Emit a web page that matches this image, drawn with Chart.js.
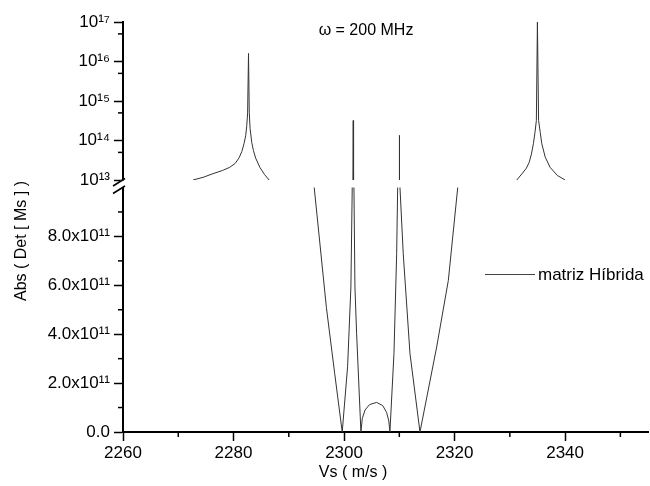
<!DOCTYPE html>
<html>
<head>
<meta charset="utf-8">
<script src="https://cdn.jsdelivr.net/npm/chart.js@4/dist/chart.umd.min.js"></script>
<style>
  html, body { margin: 0; padding: 0; background: #fff; }
</style>
</head>
<body>
<canvas id="grafico" width="650" height="486"></canvas>
<script>
// Vs (m/s) e Abs(Det[Ms])
const vs = [
  2272.67, 2274.5, 2276.3, 2278.0, 2279.3, 2280.3, 2281.0, 2281.5, 2281.9, 2282.2, 2282.4, 2282.55,
  2282.71, 2282.85, 2283.0, 2283.3, 2283.6, 2284.0, 2284.76, 2285.6, 2286.44,
  2294.6, 2296.8, 2298.3, 2299.67, 2300.64, 2301.24, 2301.48, 2301.6, 2301.66, 2301.72, 2301.79,
  2301.97, 2302.27, 2303.05,
  2303.3, 2303.8, 2304.6, 2305.9, 2307.0, 2307.7, 2308.1, 2308.3,
  2309.03, 2309.52, 2309.7, 2309.95, 2310.0, 2310.05, 2310.12, 2310.71, 2311.93, 2313.74,
  2316.76, 2318.87, 2320.57,
  2331.25, 2332.3, 2333.0, 2333.5, 2333.9, 2334.26, 2334.55, 2334.8, 2334.99, 2335.2, 2335.5,
  2335.78, 2336.4, 2337.28, 2338.6, 2340.0
];
const absDet = [
  1.0e13, 1.17e13, 1.45e13, 1.74e13, 2.09e13, 2.63e13, 3.63e13, 5.25e13, 8.3e13, 1.32e14, 2.4e14, 5.0e14,
  1.6e16, 5.0e14, 2.0e14, 8.9e13, 5.6e13, 3.6e13, 2.1e13, 1.38e13, 1.0e13,
  1.0e12, 5.1e11, 2.4e11, 0, 2.67e11, 5.93e11, 1.0e12, 1.0e13, 3.2e14, 1.0e13, 1.0e12,
  5.93e11, 4.04e11, 0,
  5.5e10, 9.0e10, 1.12e11, 1.21e11, 1.08e11, 8.0e10, 4.5e10, 0,
  3.21e11, 7.29e11, 1.0e12, 1.0e13, 1.35e14, 1.0e13, 1.0e12, 7.29e11, 3.21e11, 0,
  3.48e11, 6.2e11, 1.0e12,
  1.0e13, 1.5e13, 2.0e13, 2.8e13, 4.5e13, 8.3e13, 1.6e14, 3.2e14, 1.0e17, 3.2e14, 1.6e14,
  8.3e13, 3.8e13, 2.1e13, 1.3e13, 1.0e13
];

const nomeSerie = 'matriz Híbrida';
const tituloX = 'Vs ( m/s )';
const tituloY = 'Abs ( Det [ Ms ] )';
const textoFreq = 'ω = 200 MHz';

const xTicks = [2260, 2280, 2300, 2320, 2340];
const xMinor = [2270, 2290, 2310, 2330, 2350];
const logTicks = [1e13, 1e14, 1e15, 1e16, 1e17];
const logMinor = [5e13, 5e14, 5e15, 5e16];
const linTicks = [0, 2e11, 4e11, 6e11, 8e11];
const linMinor = [1e11, 3e11, 5e11, 7e11, 9e11];

const sup = { '0': '⁰', '1': '¹', '2': '²', '3': '³', '4': '⁴', '5': '⁵', '6': '⁶', '7': '⁷', '8': '⁸', '9': '⁹' };
const expoente = n => String(n).split('').map(c => sup[c]).join('');

// parte superior (log) só acima de 1e13, parte inferior (linear) só até 1e12
const pontosTopo = vs.map((v, i) => ({ x: v, y: absDet[i] >= 1e13 ? absDet[i] : null }));
const pontosBase = vs.map((v, i) => ({ x: v, y: absDet[i] <= 1e12 ? absDet[i] : null }));

Chart.defaults.font.family = "'Liberation Sans', Arial, sans-serif";
Chart.defaults.color = '#000';

const fonteTick = { size: 17 };

// marcas menores, quebra do eixo e textos soltos
const extras = {
  id: 'extras',
  afterDraw(chart) {
    const { ctx, scales } = chart;
    const x0 = scales.x.left;
    ctx.save();
    ctx.strokeStyle = '#000';
    ctx.lineWidth = 1.5;
    const linha = (a, b, c, d) => { ctx.beginPath(); ctx.moveTo(a, b); ctx.lineTo(c, d); ctx.stroke(); };

    logMinor.forEach(v => { const y = scales.yLog.getPixelForValue(v); linha(x0 - 5, y, x0, y); });
    linMinor.forEach(v => { const y = scales.yLin.getPixelForValue(v); linha(x0 - 5, y, x0, y); });
    xMinor.forEach(v => { const x = scales.x.getPixelForValue(v); linha(x, scales.x.top, x, scales.x.top + 5); });

    // quebra do eixo y
    const yA = scales.yLog.bottom;
    const yB = scales.yLin.getPixelForValue(1e12);
    ctx.fillStyle = '#fff';
    ctx.fillRect(x0 - 3, yA + 0.5, 6, yB - yA - 1);
    ctx.lineWidth = 1.5;
    linha(x0 - 10, yA + 6, x0 + 2, yA - 1.5);
    linha(x0 - 10, yA + 13.5, x0 + 2, yA + 6);

    ctx.fillStyle = '#000';
    ctx.textBaseline = 'middle';
    ctx.textAlign = 'center';
    ctx.font = "16px 'Liberation Sans', Arial, sans-serif";
    ctx.fillText(textoFreq, 366, 31);

    // legenda
    ctx.strokeStyle = '#444';
    ctx.lineWidth = 1;
    linha(485, 274.5, 535, 274.5);
    ctx.textAlign = 'left';
    ctx.font = "17px 'Liberation Sans', Arial, sans-serif";
    ctx.fillText(nomeSerie, 538, 275);

    // títulos dos eixos
    ctx.textAlign = 'center';
    ctx.font = "16px 'Liberation Sans', Arial, sans-serif";
    ctx.fillText(tituloX, 353, 473);
    ctx.translate(22, 241);
    ctx.rotate(-Math.PI / 2);
    ctx.fillText(tituloY, 0, 0);
    ctx.restore();
  }
};

const estiloEixo = {
  grid: { display: true, drawOnChartArea: false, drawTicks: true, tickLength: 9, tickColor: '#000', tickWidth: 1.5 },
  border: { display: true, color: '#000', width: 2 }
};

new Chart(document.getElementById('grafico'), {
  type: 'line',
  data: {
    datasets: [
      { label: nomeSerie, data: pontosTopo, yAxisID: 'yLog', borderColor: '#333', borderWidth: 1, pointRadius: 0, tension: 0 },
      { label: nomeSerie, data: pontosBase, yAxisID: 'yLin', borderColor: '#333', borderWidth: 1, pointRadius: 0, tension: 0 }
    ]
  },
  options: {
    responsive: false,
    animation: false,
    devicePixelRatio: 1,
    layout: { padding: { top: 22, right: 2, left: 0, bottom: 0 } },
    plugins: { legend: { display: false }, tooltip: { enabled: false } },
    scales: {
      x: {
        type: 'linear', position: 'bottom', min: 2260, max: 2355,
        afterBuildTicks: s => { s.ticks = xTicks.map(v => ({ value: v })); },
        afterFit: s => { s.height = 54; },
        ticks: { font: fonteTick, padding: 2, maxRotation: 0, autoSkip: false, callback: v => String(v) },
        ...estiloEixo
      },
      yLog: {
        type: 'logarithmic', position: 'left', stack: 'y', stackWeight: 158, weight: 1,
        min: 1e13, max: 1e17,
        afterBuildTicks: s => { s.ticks = logTicks.map(v => ({ value: v })); },
        afterFit: s => { s.width = 123; },
        ticks: { font: fonteTick, padding: 4, autoSkip: false, callback: v => '10' + expoente(Math.round(Math.log10(v))) },
        ...estiloEixo
      },
      yLin: {
        type: 'linear', position: 'left', stack: 'y', stackWeight: 252, weight: 0,
        min: 0, max: 1.0307e12,
        afterBuildTicks: s => { s.ticks = linTicks.map(v => ({ value: v })); },
        afterFit: s => { s.width = 123; },
        ticks: { font: fonteTick, padding: 4, autoSkip: false, callback: v => v === 0 ? '0.0' : (v / 1e11).toFixed(1) + 'x10' + expoente(11) },
        ...estiloEixo
      }
    }
  },
  plugins: [extras]
});
</script>
</body>
</html>
